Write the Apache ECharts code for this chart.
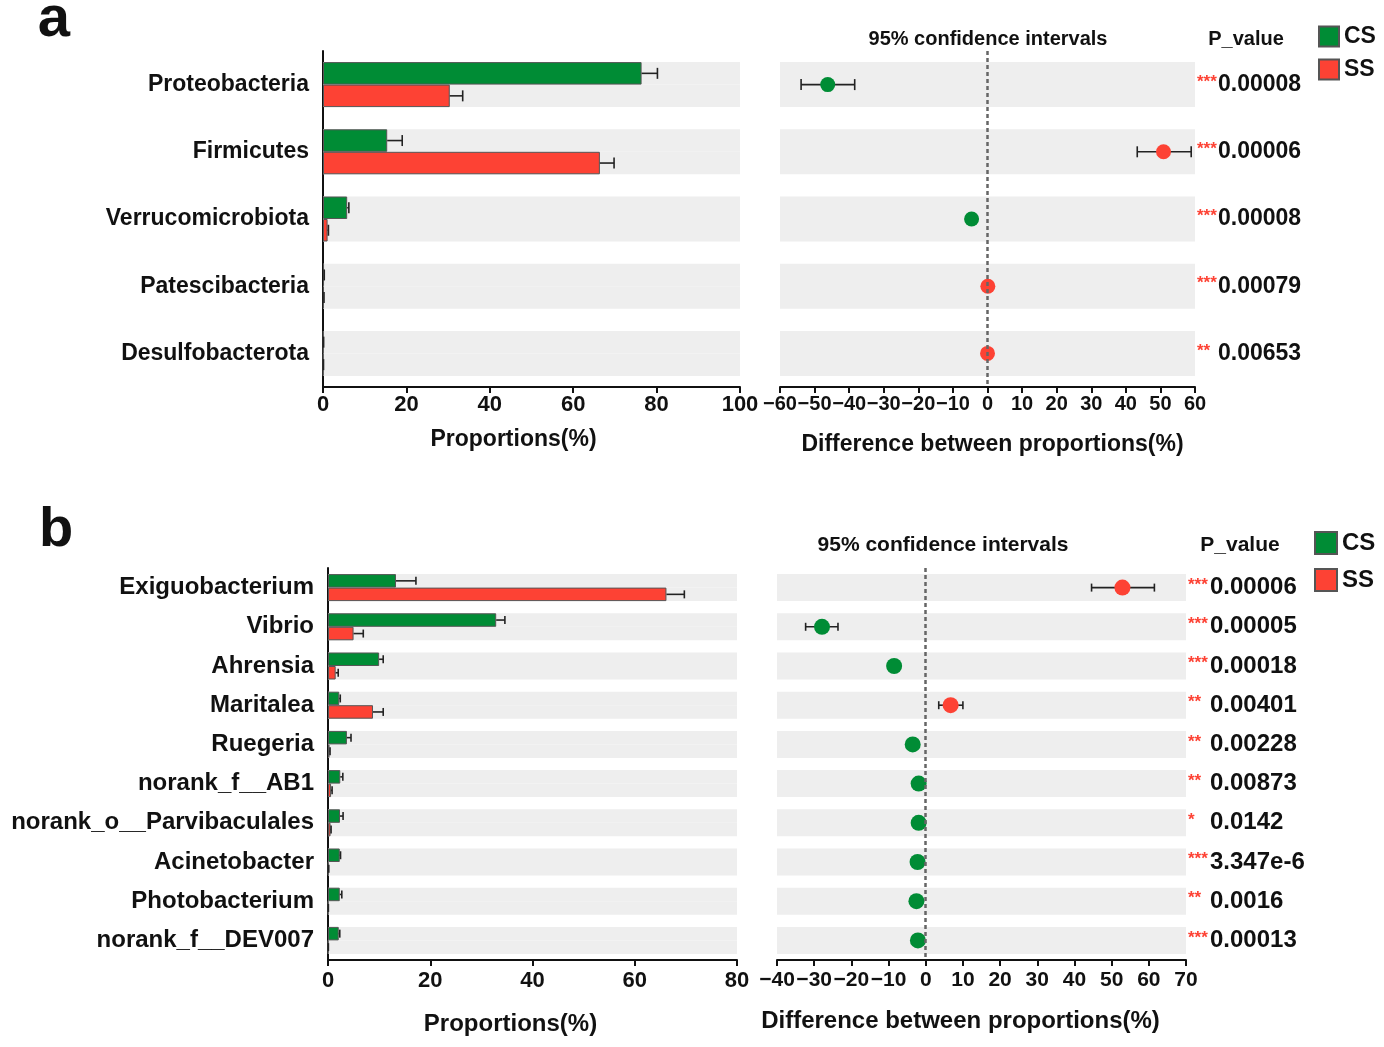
<!DOCTYPE html>
<html>
<head>
<meta charset="utf-8">
<title>CS vs SS proportions</title>
<script src="https://cdn.jsdelivr.net/npm/echarts@6/dist/echarts.min.js"></script>
<style>
  html, body { margin: 0; padding: 0; background: #fff; }
  #chart { width: 1384px; height: 1047px; }
</style>
</head>
<body>
<div id="chart"></div>
<script>
// panel a - phylum level
const phylumNames = ['Proteobacteria', 'Firmicutes', 'Verrucomicrobiota', 'Patescibacteria', 'Desulfobacterota'];
const phylumCS = [76.4, 15.4, 5.8, 0.25, 0.12];
const phylumCSErr = [3.8, 3.6, 0.4, 0.05, 0.03];
const phylumSS = [30.4, 66.4, 1.1, 0.2, 0.1];
const phylumSSErr = [3.1, 3.4, 0.2, 0.04, 0.02];
const phylumDiff = [-46.2, 50.9, -4.6, 0.1, 0.0];
const phylumLow = [-53.9, 43.3, -5.3, -0.1, -0.1];
const phylumHigh = [-38.4, 58.9, -3.9, 0.3, 0.1];
const phylumGroup = ['CS', 'SS', 'CS', 'SS', 'SS'];
const phylumStars = ['***', '***', '***', '***', '**'];
const phylumP = ['0.00008', '0.00006', '0.00008', '0.00079', '0.00653'];

// panel b - genus level
const genusNames = ['Exiguobacterium', 'Vibrio', 'Ahrensia', 'Maritalea', 'Ruegeria', 'norank_f__AB1',
  'norank_o__Parvibaculales', 'Acinetobacter', 'Photobacterium', 'norank_f__DEV007'];
const genusCS = [13.3, 32.9, 10.0, 2.2, 3.7, 2.4, 2.35, 2.3, 2.3, 2.1];
const genusCSErr = [3.9, 1.7, 0.8, 0.2, 0.8, 0.5, 0.6, 0.15, 0.4, 0.2];
const genusSS = [66.2, 5.0, 1.5, 8.8, 0.3, 0.6, 0.5, 0.1, 0.05, 0.05];
const genusSSErr = [3.5, 1.9, 0.5, 2.0, 0.1, 0.2, 0.1, 0.05, 0.02, 0.02];
const genusDiff = [52.9, -27.9, -8.5, 6.7, -3.5, -1.9, -1.9, -2.2, -2.5, -2.1];
const genusLow = [44.6, -32.3, -9.5, 3.5, -4.4, -2.6, -2.7, -2.4, -3.0, -2.3];
const genusHigh = [61.5, -23.6, -7.5, 10.0, -2.6, -1.2, -1.1, -2.0, -2.0, -1.9];
const genusGroup = ['SS', 'CS', 'CS', 'SS', 'CS', 'CS', 'CS', 'CS', 'CS', 'CS'];
const genusStars = ['***', '***', '***', '**', '**', '**', '*', '***', '**', '***'];
const genusP = ['0.00006', '0.00005', '0.00018', '0.00401', '0.00228', '0.00873', '0.0142', '3.347e-6', '0.0016', '0.00013'];

// axis ranges
const phylumPropAxis = { min: 0, max: 100, interval: 20 };
const phylumDiffAxis = { min: -60, max: 60, interval: 10 };
const genusPropAxis = { min: 0, max: 80, interval: 20 };
const genusDiffAxis = { min: -40, max: 70, interval: 10 };

const GREEN = '#008c35';
const RED = '#fd4234';
const BAND = '#eeeeee';
const INK = '#111';
const FONT = '"Liberation Sans", Arial, Helvetica, sans-serif';

const grids = [], xAxes = [], yAxes = [], series = [], graphics = [], legends = [];

function minus(v) {
  return v < 0 ? '\u2212' + Math.abs(v) : String(v);
}

// horizontal error bar: line from a to b plus cap(s)
function errRender(offset, cap, both) {
  return function (params, api) {
    const i = api.value(2);
    const p1 = api.coord([api.value(0), i]);
    const p2 = api.coord([api.value(1), i]);
    const y = p1[1] + offset;
    const st = { stroke: '#222', lineWidth: 1.6 };
    const kids = [
      { type: 'line', shape: { x1: p1[0], y1: y, x2: p2[0], y2: y }, style: st },
      { type: 'line', shape: { x1: p2[0], y1: y - cap / 2, x2: p2[0], y2: y + cap / 2 }, style: st }
    ];
    if (both) {
      kids.push({ type: 'line', shape: { x1: p1[0], y1: y - cap / 2, x2: p1[0], y2: y + cap / 2 }, style: st });
    }
    return { type: 'group', children: kids };
  };
}

function addPanel(d, L) {
  const gl = grids.length, gr = gl + 1;
  grids.push({ left: L.leftX, top: L.top, width: L.leftW, height: L.height });
  grids.push({ left: L.rightX, top: L.top, width: L.rightW, height: L.height });

  const tickLabel = (size) => ({
    color: INK, fontSize: size, fontWeight: 'bold', fontFamily: FONT,
    showMinLabel: true, showMaxLabel: true
  });
  const nameStyle = { color: INK, fontSize: L.nameFont, fontWeight: 'bold', fontFamily: FONT };

  xAxes.push({
    gridIndex: gl, type: 'value', min: d.propAxis.min, max: d.propAxis.max, interval: d.propAxis.interval,
    axisLine: { show: true, onZero: false, lineStyle: { color: INK, width: 2 } },
    axisTick: { show: true, length: 6, lineStyle: { color: INK, width: 2 } },
    splitLine: { show: false },
    axisLabel: Object.assign({ margin: L.labelMargin }, tickLabel(L.tickFont)),
    name: 'Proportions(%)', nameLocation: 'middle', nameGap: L.leftNameGap,
    nameTextStyle: Object.assign({ padding: [0, L.leftNameShift, 0, 0] }, nameStyle)
  });
  xAxes.push({
    gridIndex: gr, type: 'value', min: d.diffAxis.min, max: d.diffAxis.max, interval: d.diffAxis.interval,
    axisLine: { show: true, onZero: false, lineStyle: { color: INK, width: 2 } },
    axisTick: { show: true, length: 6, lineStyle: { color: INK, width: 2 } },
    splitLine: { show: false },
    axisLabel: Object.assign({ margin: L.labelMargin, formatter: minus }, tickLabel(L.diffTickFont)),
    name: 'Difference between proportions(%)', nameLocation: 'middle', nameGap: L.rightNameGap,
    nameTextStyle: Object.assign({ padding: [0, L.rightNameShift, 0, 0] }, nameStyle)
  });

  yAxes.push({
    gridIndex: gl, type: 'category', data: d.names, inverse: true,
    axisLine: { show: true, lineStyle: { color: INK, width: 2 } },
    axisTick: { show: false },
    axisLabel: { margin: 14, color: INK, fontSize: L.catFont, fontWeight: 'bold', fontFamily: FONT }
  });
  yAxes.push({
    gridIndex: gr, type: 'category', data: d.names, inverse: true, position: 'right',
    axisLine: { show: false }, axisTick: { show: false },
    axisLabel: {
      margin: 2, align: 'left',
      formatter: (v, i) => '{s|' + d.stars[i] + '}{v|' + d.p[i] + '}',
      rich: {
        s: { color: RED, fontSize: 17, fontWeight: 'bold', fontFamily: FONT, width: L.starW, padding: [0, 0, 5, 0] },
        v: { color: INK, fontSize: L.pFont, fontWeight: 'bold', fontFamily: FONT }
      }
    }
  });

  const xl = xAxes.length - 2, xr = xAxes.length - 1;
  const yl = yAxes.length - 2, yr = yAxes.length - 1;

  series.push({
    type: 'bar', name: 'CS', xAxisIndex: xl, yAxisIndex: yl, data: d.cs,
    barWidth: L.barW, barGap: '0%',
    itemStyle: { color: GREEN, borderColor: '#555', borderWidth: 1 },
    showBackground: true, backgroundStyle: { color: BAND }, silent: true
  });
  series.push({
    type: 'bar', name: 'SS', xAxisIndex: xl, yAxisIndex: yl, data: d.ss,
    barWidth: L.barW, barGap: '0%',
    itemStyle: { color: RED, borderColor: '#555', borderWidth: 1 },
    showBackground: true, backgroundStyle: { color: BAND }, silent: true
  });
  series.push({
    type: 'custom', xAxisIndex: xl, yAxisIndex: yl, z: 3, silent: true,
    data: d.cs.map((v, i) => [v, v + d.csErr[i], i]),
    encode: { x: [0, 1], y: 2 },
    renderItem: errRender(-L.barW / 2, L.cap, false)
  });
  series.push({
    type: 'custom', xAxisIndex: xl, yAxisIndex: yl, z: 3, silent: true,
    data: d.ss.map((v, i) => [v, v + d.ssErr[i], i]),
    encode: { x: [0, 1], y: 2 },
    renderItem: errRender(L.barW / 2, L.cap, false)
  });

  // grey bands + zero line on the difference plot
  series.push({
    type: 'bar', xAxisIndex: xr, yAxisIndex: yr, data: d.names.map(() => 0),
    barWidth: L.band, itemStyle: { color: 'rgba(0,0,0,0)' },
    showBackground: true, backgroundStyle: { color: BAND }, silent: true, z: 1,
    markLine: {
      silent: true, symbol: 'none', label: { show: false },
      lineStyle: { type: [4, 3], color: '#666', width: 2.5 },
      data: [{ xAxis: 0 }]
    }
  });
  series.push({
    type: 'custom', xAxisIndex: xr, yAxisIndex: yr, z: 3, silent: true,
    data: d.low.map((lo, i) => [lo, d.high[i], i]),
    encode: { x: [0, 1], y: 2 },
    renderItem: errRender(0, L.ciCap, true)
  });
  series.push({
    type: 'scatter', xAxisIndex: xr, yAxisIndex: yr, z: 4, silent: true,
    symbolSize: L.dot,
    data: d.diff.map((v, i) => ({
      value: [v, i],
      itemStyle: { color: d.group[i] === 'CS' ? GREEN : RED, opacity: 1 }
    }))
  });

  const txt = (text, x, y, size) => ({
    type: 'text', x: x, y: y, silent: true,
    style: {
      text: text, fill: INK, font: 'bold ' + size + 'px ' + FONT,
      textAlign: 'center', textVerticalAlign: 'middle', align: 'center', verticalAlign: 'middle'
    }
  });
  graphics.push(txt(L.letter, L.letterX, L.letterY, L.letterSize));
  graphics.push(txt('95% confidence intervals', L.ciX, L.headY, L.headFont));
  graphics.push(txt('P_value', L.pX, L.headY, L.headFont));

  legends.push({
    data: ['CS', 'SS'], orient: 'vertical', left: L.legendX, top: L.legendY, padding: 0,
    icon: 'rect', itemWidth: L.legendBox, itemHeight: L.legendBox, itemGap: L.legendGap,
    selectedMode: false,
    textStyle: { color: INK, fontSize: L.legendFont, fontWeight: 'bold', fontFamily: FONT }
  });
}

addPanel({
  names: phylumNames, cs: phylumCS, csErr: phylumCSErr, ss: phylumSS, ssErr: phylumSSErr,
  diff: phylumDiff, low: phylumLow, high: phylumHigh, group: phylumGroup,
  stars: phylumStars, p: phylumP, propAxis: phylumPropAxis, diffAxis: phylumDiffAxis
}, {
  top: 51, height: 336, leftX: 323, leftW: 417, rightX: 780, rightW: 415,
  barW: 22.5, band: 45, cap: 11, ciCap: 11, dot: 15,
  catFont: 23, tickFont: 22, diffTickFont: 20, nameFont: 23, pFont: 23, headFont: 20, starW: 21,
  labelMargin: 7, leftNameGap: 41, rightNameGap: 46, leftNameShift: 36, rightNameShift: -10,
  letter: 'a', letterX: 54, letterY: 20, letterSize: 58,
  ciX: 988, pX: 1246, headY: 39,
  legendX: 1318, legendY: 25, legendBox: 20, legendGap: 10, legendFont: 23
});

addPanel({
  names: genusNames, cs: genusCS, csErr: genusCSErr, ss: genusSS, ssErr: genusSSErr,
  diff: genusDiff, low: genusLow, high: genusHigh, group: genusGroup,
  stars: genusStars, p: genusP, propAxis: genusPropAxis, diffAxis: genusDiffAxis
}, {
  top: 568, height: 392, leftX: 328, leftW: 409, rightX: 777, rightW: 409,
  barW: 13.5, band: 27, cap: 8, ciCap: 8, dot: 16,
  catFont: 24, tickFont: 22, diffTickFont: 21, nameFont: 24, pFont: 24, headFont: 21, starW: 22,
  labelMargin: 10, leftNameGap: 52, rightNameGap: 49, leftNameShift: 44, rightNameShift: 42,
  letter: 'b', letterX: 56, letterY: 531, letterSize: 56,
  ciX: 943, pX: 1240, headY: 545,
  legendX: 1314, legendY: 531, legendBox: 22, legendGap: 13, legendFont: 24
});

const chart = echarts.init(document.getElementById('chart'), null, { renderer: 'canvas' });
chart.setOption({
  backgroundColor: '#fff',
  animation: false,
  grid: grids,
  xAxis: xAxes,
  yAxis: yAxes,
  legend: legends,
  graphic: graphics,
  series: series
});
</script>
</body>
</html>
